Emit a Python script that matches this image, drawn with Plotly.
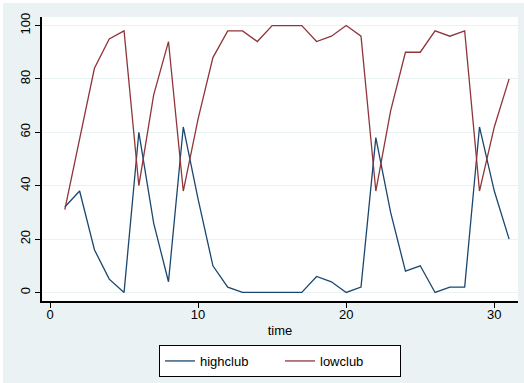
import plotly.graph_objects as go

time = list(range(1, 32))
highclub = [32, 38, 16, 5, 0, 60, 26, 4, 62, 35, 10, 2, 0, 0, 0, 0, 0, 6, 4, 0,
            2, 58, 30, 8, 10, 0, 2, 2, 62, 38, 20]
lowclub = [31, 58, 84, 95, 98, 40, 74, 94, 38, 65, 88, 98, 98, 94, 100, 100, 100,
           94, 96, 100, 96, 38, 68, 90, 90, 98, 96, 98, 38, 62, 80]

x_ticks = [0, 10, 20, 30]
y_ticks = [0, 20, 40, 60, 80, 100]

BG = "#EAF2F3"
FONT = "Liberation Sans, Arial, sans-serif"

fig = go.Figure()
fig.add_trace(go.Scatter(x=time, y=highclub, mode="lines", name="highclub",
                         line=dict(color="#1A476F", width=1.3)))
fig.add_trace(go.Scatter(x=time, y=lowclub, mode="lines", name="lowclub",
                         line=dict(color="#90353B", width=1.3)))

# thin white outer edge (top and left) like the reference graph frame
pw, ph = 476.0, 284.0
fig.add_shape(type="rect", xref="paper", yref="paper", layer="below",
              x0=-42 / pw, x1=-39 / pw, y0=-82 / ph, y1=1 + 17 / ph,
              fillcolor="white", line=dict(width=0))
fig.add_shape(type="rect", xref="paper", yref="paper", layer="below",
              x0=-42 / pw, x1=1 + 6 / pw, y0=1 + 14 / ph, y1=1 + 17 / ph,
              fillcolor="white", line=dict(width=0))

fig.update_layout(
    width=524, height=383,
    margin=dict(l=42, r=6, t=17, b=82, autoexpand=False),
    paper_bgcolor=BG, plot_bgcolor="white",
    font=dict(family=FONT, size=13, color="black"),
    showlegend=True,
    legend=dict(orientation="h", x=0.5, xanchor="center",
                yref="container", y=1 - 345 / 383, yanchor="top",
                bgcolor="white", bordercolor="black", borderwidth=1,
                font=dict(size=13), entrywidth=75, entrywidthmode="pixels"),
    xaxis=dict(range=[-0.54, 31.6], tickvals=x_ticks, showgrid=False, zeroline=False,
               showline=True, linecolor="black", linewidth=1.5, ticks="outside",
               ticklen=5, tickcolor="black", ticklabelstandoff=-4,
               title=dict(text="time", font=dict(size=13), standoff=5),
               automargin=False),
    yaxis=dict(range=[-3.2, 103.2], tickvals=y_ticks, showgrid=True, gridcolor=BG,
               gridwidth=1, zeroline=False, showline=True, linecolor="black",
               linewidth=1.5, ticks="outside", ticklen=5, tickcolor="black",
               tickangle=-90, automargin=False),
)

fig.write_html("out.html")
